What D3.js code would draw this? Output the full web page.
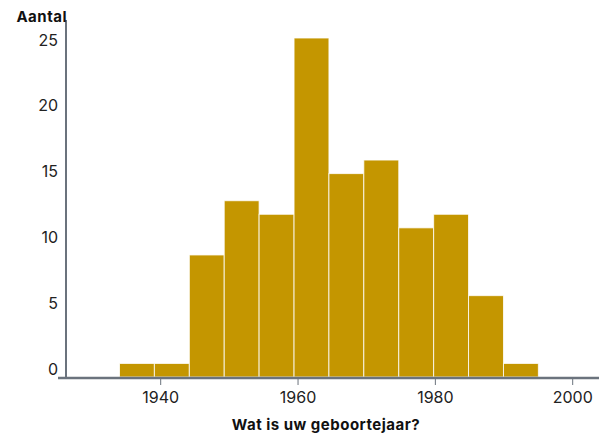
<!DOCTYPE html>
<html>
<head>
<meta charset="utf-8">
<script src="https://cdn.jsdelivr.net/npm/d3@7"></script>
<style>
  body { margin: 0; background: #fff; }
  text { font-family: Inter, Lato, sans-serif; }
</style>
</head>
<body>
<div id="chart"></div>
<script>
// histogram data: bin edges (years) and the count in each bin
var binEdges = [1934, 1939.08, 1944.17, 1949.25, 1954.33, 1959.42, 1964.5,
                1969.58, 1974.67, 1979.75, 1984.83, 1989.92, 1995];
var counts = [1, 1, 9, 13, 12, 25, 15, 16, 11, 12, 6, 1];
var yTicks = [0, 5, 10, 15, 20, 25];
var xTicks = [1940, 1960, 1980, 2000];

createGraph();

function createGraph() {
    var width = 602;
    var height = 434;
    var barColor = "#c49600";
    var axisColor = "#6b737d";

    var x = d3.scaleLinear().domain([1940, 2000]).range([160.7, 572.7]);
    var y = d3.scaleLinear().domain([0, 25]).range([377, 38]);
    // labels sit a bit above their values (bottom label kept above the axis)
    var yLabel = d3.scaleLinear().domain([0, 25]).range([369, 40]);

    var svg = d3.select("#chart").append("svg")
        .attr("width", width)
        .attr("height", height);

    // bars
    svg.selectAll(".bar")
        .data(counts)
        .enter().append("rect")
        .attr("class", "bar")
        .attr("x", function (d, i) { return x(binEdges[i]); })
        .attr("width", function (d, i) { return x(binEdges[i + 1]) - x(binEdges[i]); })
        .attr("y", function (d) { return y(d); })
        .attr("height", function (d) { return y(0) - y(d); })
        .style("fill", barColor)
        .style("stroke", "#fff")
        .style("stroke-opacity", 0.8)
        .style("stroke-width", 1);

    // y axis line
    svg.append("line")
        .attr("x1", 66).attr("x2", 66)
        .attr("y1", 20).attr("y2", y(0))
        .style("stroke", axisColor)
        .style("stroke-width", 2);

    // x axis line
    svg.append("line")
        .attr("x1", 58).attr("x2", 599)
        .attr("y1", 378).attr("y2", 378)
        .style("stroke", axisColor)
        .style("stroke-width", 2.5);

    // y tick labels
    svg.selectAll(".ylab")
        .data(yTicks)
        .enter().append("text")
        .attr("class", "ylab")
        .attr("x", 58)
        .attr("y", function (d) { return yLabel(d); })
        .attr("dy", "0.35em")
        .style("text-anchor", "end")
        .style("font-size", "16px")
        .style("fill", "#222")
        .text(function (d) { return d; });

    // x ticks + labels
    var xt = svg.selectAll(".xtick")
        .data(xTicks)
        .enter().append("g")
        .attr("class", "xtick")
        .attr("transform", function (d) { return "translate(" + x(d) + ",0)"; });
    xt.append("line")
        .attr("y1", 379).attr("y2", 385)
        .style("stroke", axisColor)
        .style("stroke-width", 1);
    xt.append("text")
        .attr("y", 397)
        .attr("dy", "0.35em")
        .style("text-anchor", "middle")
        .style("font-size", "16px")
        .style("fill", "#222")
        .text(function (d) { return d; });

    // titles
    svg.append("text")
        .attr("x", 67)
        .attr("y", 17)
        .attr("dy", "0.35em")
        .style("text-anchor", "end")
        .style("font-size", "15px")
        .style("font-weight", "bold")
        .style("letter-spacing", "0.5px")
        .style("fill", "#111")
        .text("Aantal");

    svg.append("text")
        .attr("x", 326)
        .attr("y", 425)
        .attr("dy", "0.35em")
        .style("text-anchor", "middle")
        .style("font-size", "15px")
        .style("font-weight", "bold")
        .style("letter-spacing", "0.5px")
        .style("fill", "#111")
        .text("Wat is uw geboortejaar?");
}
</script>
</body>
</html>
